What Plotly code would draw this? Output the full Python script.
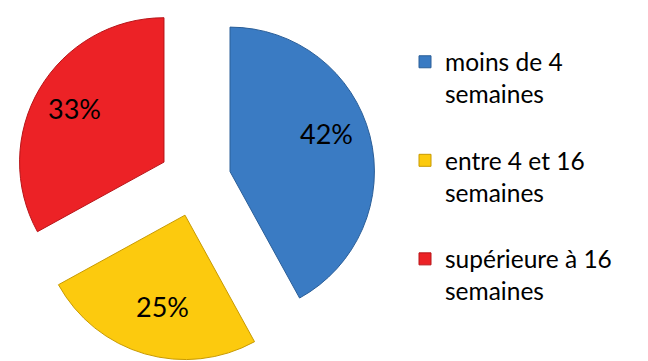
import math
import plotly.graph_objects as go

# Durée : répartition en pourcentage
labels = ["moins de 4<br>semaines<br>", "entre 4 et 16<br>semaines<br>", "supérieure à 16<br>semaines<br>"]
values = [42, 25, 33]
colors = ["#3A7BC3", "#FCCA0E", "#EC2226"]
edge_colors = ["#2A5E98", "#C89A00", "#B81418"]

W, H = 648, 361
PULL = 0.25
DOM_X = [0.022, 0.58]
DOM_Y = [0.0, 1.0]

fig = go.Figure(
    go.Pie(
        labels=labels,
        values=values,
        sort=False,
        direction="clockwise",
        rotation=0,
        pull=[PULL] * len(values),
        marker=dict(colors=colors, line=dict(color=edge_colors, width=1)),
        textinfo="none",
        hoverinfo="label+percent",
        domain=dict(x=DOM_X, y=DOM_Y),
    )
)

# Percentage labels placed inside each pulled slice, following the slice angles
radius_px = min(W * (DOM_X[1] - DOM_X[0]), H * (DOM_Y[1] - DOM_Y[0])) / 2 / (1 + PULL)
cx = (DOM_X[0] + DOM_X[1]) / 2
cy = (DOM_Y[0] + DOM_Y[1]) / 2
total = sum(values)
start = 0.0
for v in values:
    mid = start + 360.0 * v / total / 2 - 2.5
    dist = 0.95 * radius_px
    dx = dist * math.sin(math.radians(mid))
    dy = dist * math.cos(math.radians(mid))
    fig.add_annotation(
        x=cx + dx / W,
        y=cy + dy / H,
        xref="paper",
        yref="paper",
        xanchor="center",
        yanchor="middle",
        yshift=7,
        text=f"{v}%",
        showarrow=False,
        font=dict(family="Lato", size=27, color="#000000"),
    )
    start += 360.0 * v / total

fig.update_layout(
    width=W,
    height=H,
    margin=dict(l=0, r=0, t=0, b=0),
    paper_bgcolor="white",
    plot_bgcolor="white",
    showlegend=True,
    legend=dict(
        x=0.625,
        y=0.891,
        xanchor="left",
        yanchor="top",
        valign="top",
        font=dict(family="Lato", size=24.5, color="#000000"),
        bgcolor="rgba(0,0,0,0)",
    ),
)

fig.write_html("out.html")
